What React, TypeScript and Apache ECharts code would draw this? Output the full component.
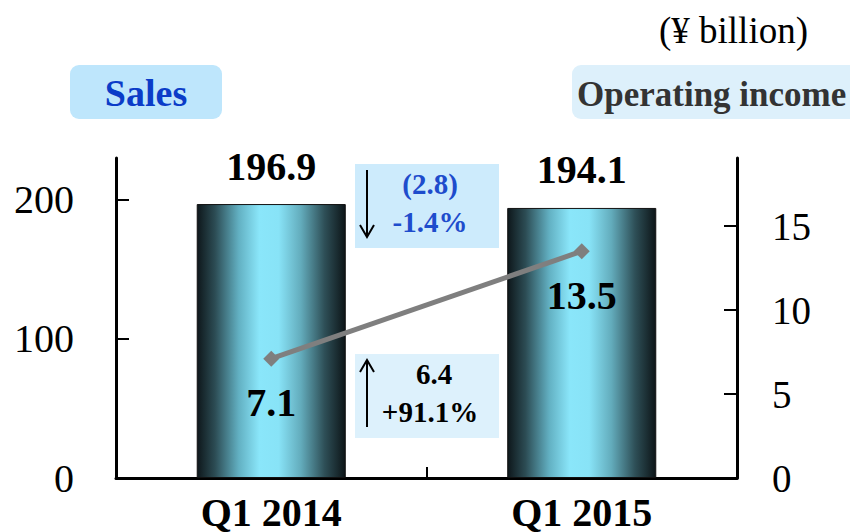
import React, { useEffect, useRef } from "react";
import * as echarts from "echarts";

const categories = ["Q1 2014", "Q1 2015"];
const salesValues = [196.9, 194.1];
const incomeValues = [7.1, 13.5];
const leftTicks = [0, 100, 200];
const rightTicks = [0, 5, 10, 15];
const salesChange = ["(2.8)", "-1.4%"];
const incomeChange = ["6.4", "+91.1%"];

const FONT = "'Liberation Serif', 'Times New Roman', serif";

export default function App() {
  const ref = useRef<HTMLDivElement>(null);
  useEffect(() => {
    const chart = echarts.init(ref.current!, null, { renderer: "svg" });
    const barGradient = new echarts.graphic.LinearGradient(0, 0, 1, 0, [
      { offset: 0, color: "#0e171b" },
      { offset: 0.12, color: "#2c4c54" },
      { offset: 0.28, color: "#62b0c2" },
      { offset: 0.42, color: "#8ae6fa" },
      { offset: 0.55, color: "#88e3f7" },
      { offset: 0.7, color: "#63acbc" },
      { offset: 0.86, color: "#2e4f57" },
      { offset: 1, color: "#0d1518" },
    ]);
    const option: any = {
      animation: false,
      textStyle: { fontFamily: FONT },
      grid: { left: 116, right: 113, top: 158, bottom: 54 },
      xAxis: {
        type: "category",
        data: categories,
        axisLine: { lineStyle: { color: "#000", width: 3 } },
        axisTick: { show: true, inside: true, length: 11, lineStyle: { color: "#000", width: 2 } },
        axisLabel: {
          color: "#000",
          fontFamily: FONT,
          fontWeight: "bold",
          fontSize: 40,
          margin: 14,
        },
      },
      yAxis: [
        {
          type: "value",
          min: 0,
          max: 230,
          interval: 100,
          splitLine: { show: false },
          axisLine: { show: true, lineStyle: { color: "#000", width: 3 } },
          axisTick: {
            show: true,
            inside: true,
            length: 13,
            customValues: leftTicks,
            lineStyle: { color: "#000", width: 2 },
          },
          axisLabel: {
            color: "#000",
            fontFamily: FONT,
            fontSize: 40,
            margin: 42,
            customValues: leftTicks,
          },
        },
        {
          type: "value",
          min: 0,
          max: 19.05,
          interval: 5,
          splitLine: { show: false },
          axisLine: { show: true, lineStyle: { color: "#000", width: 3 } },
          axisTick: {
            show: true,
            inside: true,
            length: 13,
            customValues: rightTicks,
            lineStyle: { color: "#000", width: 2 },
          },
          axisLabel: {
            color: "#000",
            fontFamily: FONT,
            fontSize: 39,
            margin: 35,
            customValues: rightTicks,
          },
        },
      ],
      series: [
        {
          type: "bar",
          data: salesValues,
          yAxisIndex: 0,
          barWidth: "48%",
          itemStyle: { color: barGradient, borderColor: "#111", borderWidth: 1 },
          label: {
            show: true,
            position: "top",
            distance: 18,
            color: "#000",
            fontFamily: FONT,
            fontWeight: "bold",
            fontSize: 40,
            formatter: (p: any) => p.value.toFixed(1),
          },
          z: 1,
        },
        {
          type: "line",
          data: incomeValues,
          yAxisIndex: 1,
          symbol: "diamond",
          symbolSize: 16,
          lineStyle: { color: "#7f7f7f", width: 5 },
          itemStyle: { color: "#7f7f7f" },
          label: {
            show: true,
            position: "bottom",
            distance: 16,
            color: "#000",
            fontFamily: FONT,
            fontWeight: "bold",
            fontSize: 40,
            formatter: (p: any) => p.value.toFixed(1),
          },
          z: 3,
        },
      ],
      graphic: [
        {
          type: "text",
          right: 42,
          top: 12,
          style: { text: "(¥ billion)", fontFamily: FONT, fontSize: 37, fill: "#000" },
        },
        {
          type: "rect",
          shape: { x: 70, y: 65, width: 152, height: 54, r: 9 },
          style: { fill: "#bee6fc" },
        },
        {
          type: "text",
          x: 146,
          y: 93,
          style: {
            text: "Sales",
            fontFamily: FONT,
            fontWeight: "bold",
            fontSize: 38,
            fill: "#0b3cc8",
            align: "center",
            verticalAlign: "middle",
          },
        },
        {
          type: "rect",
          shape: { x: 572, y: 65, width: 300, height: 54, r: 9 },
          style: { fill: "#ddf0fb" },
        },
        {
          type: "text",
          x: 577,
          y: 94,
          style: {
            text: "Operating income",
            fontFamily: FONT,
            fontWeight: "bold",
            fontSize: 35,
            fill: "#333",
            align: "left",
            verticalAlign: "middle",
          },
        },
        // sales change box
        {
          type: "rect",
          shape: { x: 355, y: 164, width: 144, height: 84 },
          style: { fill: "#cdebfc" },
        },
        {
          type: "line",
          shape: { x1: 367, y1: 170, x2: 367, y2: 237 },
          style: { stroke: "#000", lineWidth: 2 },
        },
        {
          type: "polyline",
          shape: { points: [[360, 225], [367, 237], [374, 225]] },
          style: { stroke: "#000", lineWidth: 2, fill: null },
        },
        {
          type: "text",
          x: 430,
          y: 184,
          style: {
            text: salesChange[0],
            fontFamily: FONT,
            fontWeight: "bold",
            fontSize: 29,
            fill: "#1e4ccc",
            align: "center",
            verticalAlign: "middle",
          },
        },
        {
          type: "text",
          x: 430,
          y: 222,
          style: {
            text: salesChange[1],
            fontFamily: FONT,
            fontWeight: "bold",
            fontSize: 29,
            fill: "#1e4ccc",
            align: "center",
            verticalAlign: "middle",
          },
        },
        // income change box
        {
          type: "rect",
          shape: { x: 355, y: 354, width: 144, height: 84 },
          style: { fill: "#ddf1fc" },
        },
        {
          type: "line",
          shape: { x1: 367, y1: 360, x2: 367, y2: 427 },
          style: { stroke: "#000", lineWidth: 2 },
        },
        {
          type: "polyline",
          shape: { points: [[360, 372], [367, 360], [374, 372]] },
          style: { stroke: "#000", lineWidth: 2, fill: null },
        },
        {
          type: "text",
          x: 434,
          y: 374,
          style: {
            text: incomeChange[0],
            fontFamily: FONT,
            fontWeight: "bold",
            fontSize: 29,
            fill: "#000",
            align: "center",
            verticalAlign: "middle",
          },
        },
        {
          type: "text",
          x: 430,
          y: 412,
          style: {
            text: incomeChange[1],
            fontFamily: FONT,
            fontWeight: "bold",
            fontSize: 29,
            fill: "#000",
            align: "center",
            verticalAlign: "middle",
          },
        },
      ],
    };
    chart.setOption(option);
    return () => chart.dispose();
  }, []);
  return <div ref={ref} style={{ width: 850, height: 532, position: "absolute", left: 0, top: 0 }} />;
}
